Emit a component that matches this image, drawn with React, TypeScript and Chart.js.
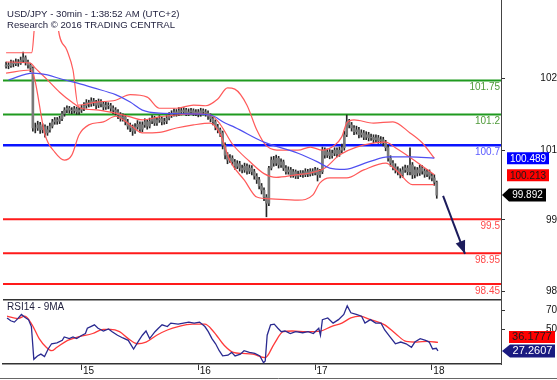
import React, { useEffect, useRef } from "react";
import { Chart, registerables } from "chart.js";
Chart.register(...registerables);

const FONT = "'Liberation Sans', Arial, sans-serif";

// ---------- price bars (30 min), index 0..177 ----------
const firstOpen = 101.98;
const closes = [
  102.00,101.99,102.03,102.02,102.05,102.03,102.08,102.12,102.05,102.00,
  101.95,100.98,100.98,101.03,100.95,101.00,100.90,100.95,101.01,101.08,
  101.11,101.09,101.13,101.21,101.27,101.30,101.27,101.26,101.29,101.24,
  101.27,101.30,101.34,101.39,101.37,101.42,101.39,101.35,101.40,101.37,
  101.32,101.35,101.34,101.30,101.27,101.24,101.19,101.14,101.16,101.08,
  101.01,100.98,100.93,101.00,101.04,100.96,101.03,101.08,101.01,101.09,
  101.14,101.06,101.11,101.13,101.08,101.09,101.14,101.19,101.21,101.24,
  101.22,101.26,101.24,101.27,101.22,101.24,101.26,101.22,101.24,101.21,
  101.26,101.24,101.22,101.17,101.13,101.08,101.00,100.95,100.90,100.70,
  100.54,100.46,100.49,100.43,100.36,100.40,100.33,100.30,100.36,100.28,
  100.33,100.27,100.20,100.14,100.04,99.97,99.86,99.76,100.33,100.46,
  100.41,100.49,100.38,100.43,100.33,100.27,100.30,100.22,100.27,100.20,
  100.23,100.25,100.22,100.27,100.23,100.28,100.25,100.30,100.22,100.27,
  100.62,100.54,100.59,100.53,100.57,100.62,100.56,100.62,100.66,100.87,
  101.08,101.03,100.98,100.92,100.95,100.87,100.90,100.83,100.87,100.82,
  100.83,100.79,100.82,100.77,100.79,100.74,100.66,100.49,100.41,100.35,
  100.30,100.27,100.22,100.30,100.33,100.27,100.38,100.22,100.30,100.25,
  100.33,100.28,100.23,100.27,100.20,100.17,100.10,99.89
];
const highs = [
  102.05,102.04,102.08,102.07,102.10,102.09,102.13,102.21,102.15,102.08,
  102.03,101.97,101.06,101.09,101.07,101.05,101.03,101.01,101.06,101.12,
  101.15,101.15,101.17,101.25,101.31,101.34,101.33,101.31,101.33,101.32,
  101.31,101.35,101.39,101.44,101.43,101.47,101.46,101.43,101.45,101.44,
  101.40,101.40,101.39,101.38,101.34,101.31,101.28,101.23,101.21,101.19,
  101.12,101.06,101.03,101.05,101.10,101.08,101.08,101.13,101.11,101.14,
  101.18,101.17,101.15,101.18,101.16,101.14,101.18,101.23,101.26,101.29,
  101.28,101.31,101.30,101.31,101.30,101.29,101.30,101.29,101.28,101.28,
  101.30,101.29,101.28,101.26,101.21,101.16,101.11,101.04,100.98,100.93,
  100.74,100.58,100.55,100.53,100.47,100.45,100.44,100.38,100.41,100.40,
  100.38,100.37,100.31,100.24,100.18,100.08,100.01,99.90,100.36,100.51,
  100.52,100.54,100.52,100.48,100.46,100.37,100.35,100.34,100.31,100.30,
  100.28,100.29,100.29,100.32,100.31,100.32,100.32,100.34,100.33,100.31,
  100.67,100.66,100.64,100.63,100.62,100.66,100.66,100.67,100.72,100.93,
  101.19,101.12,101.07,101.02,101.01,100.99,100.95,100.94,100.92,100.91,
  100.88,100.87,100.87,100.86,100.84,100.83,100.78,100.70,100.53,100.45,
  100.40,100.35,100.32,100.35,100.38,100.37,100.66,100.42,100.35,100.34,
  100.38,100.37,100.32,100.31,100.30,100.24,100.22,100.12
];
const lows = [
  101.95,101.94,101.96,101.97,101.99,101.98,102.01,102.04,102.00,101.95,
  101.89,100.93,100.90,100.94,100.89,100.90,100.83,100.86,100.91,100.98,
  101.04,101.04,101.05,101.10,101.17,101.23,101.22,101.21,101.22,101.20,
  101.20,101.23,101.26,101.30,101.32,101.33,101.34,101.29,101.31,101.32,
  101.27,101.28,101.29,101.25,101.21,101.19,101.13,101.09,101.09,101.03,
  100.96,100.92,100.86,100.89,100.96,100.91,100.92,100.99,100.96,100.98,
  101.05,101.02,101.02,101.07,101.03,101.04,101.05,101.11,101.15,101.17,
  101.17,101.18,101.19,101.20,101.18,101.18,101.20,101.18,101.18,101.16,
  101.17,101.19,101.17,101.12,101.08,101.03,100.95,100.90,100.84,100.64,
  100.48,100.40,100.42,100.38,100.31,100.32,100.28,100.25,100.26,100.23,
  100.24,100.22,100.15,100.08,99.99,99.91,99.80,99.54,99.72,100.30,
  100.36,100.37,100.33,100.34,100.29,100.23,100.23,100.18,100.18,100.16,
  100.16,100.19,100.18,100.19,100.19,100.20,100.21,100.22,100.12,100.18,
  100.24,100.49,100.50,100.48,100.49,100.53,100.51,100.52,100.58,100.62,
  100.84,100.98,100.93,100.87,100.88,100.82,100.83,100.79,100.79,100.77,
  100.78,100.74,100.75,100.73,100.73,100.69,100.61,100.44,100.36,100.30,
  100.25,100.22,100.17,100.18,100.26,100.22,100.22,100.16,100.17,100.20,
  100.21,100.23,100.18,100.19,100.15,100.12,100.05,99.84
];

// ---------- indicators (x = bar index) ----------
const upperX = [0,10.6,11.5,13,17,20,21.5,25,27.5,29.6,37,45,51,58,63,70,77,82,87,91,94,99,103,107,113,120,125,130,135,138,140,143,151,159,166,171,176];
const upperY = [102.20,102.20,102.55,103.3,103.6,103.2,102.57,102.24,101.92,101.35,101.40,101.43,101.52,101.48,101.30,101.30,101.35,101.34,101.45,101.63,101.61,101.35,100.95,100.69,100.62,100.62,100.67,100.62,100.70,100.84,101.06,101.11,101.06,101.08,100.90,100.74,100.49];
const midX = [0,10,12,17,22,27,31,38,45,51,56,63,70,78,84,88,93,100,106,111,119,125,131,137,144,156,160,168,176];
const midY = [102.05,102.03,101.95,101.76,101.56,101.40,101.30,101.27,101.22,101.16,101.11,101.16,101.19,101.21,101.19,101.04,100.72,100.44,100.24,100.18,100.22,100.25,100.33,100.54,100.67,100.75,100.66,100.45,100.22];
const lowX = [0,10,11.5,16,20,24,27,30,34,40,45,51,56,63,70,77,84,88,92,98,103,109,120,126,129,133,140,147,156,161,167,176];
const lowY = [101.87,101.92,101.81,100.87,100.59,100.46,100.54,100.87,101.03,101.08,101.17,101.03,100.90,100.91,100.98,101.03,101.06,100.88,100.45,100.13,99.86,99.83,99.81,99.89,100.09,100.17,100.17,100.30,100.41,100.27,100.06,100.06];
const maX = [1,11,17,23,29,36,45,51,56,63,74,84,90,94,106,120,128,133,139,149,157,166,176];
const maY = [101.76,101.87,101.84,101.77,101.71,101.63,101.52,101.40,101.27,101.22,101.21,101.19,101.06,100.99,100.75,100.57,100.43,100.33,100.31,100.43,100.51,100.51,100.49];

const rsiX = [0.4,1.9,3.4,4.8,6.3,7.7,9.2,10.4,11.4,12.9,14.3,15.8,17.3,18.7,20.9,23.1,23.9,26,27.5,29,31.2,32.6,33.4,34.8,36.3,37.8,40,42.1,43.6,45.8,48,50.2,52.4,54.6,56,57.5,59,61.2,62.6,64.1,66.3,67.7,70.7,72.9,75.1,77.3,79.5,81.7,83.1,84.6,86.1,87.6,89,91.2,92.7,94.1,96.3,97.8,100,102.2,104.3,105.8,106.5,107.3,108.7,110.2,111.7,113.1,114.6,116.8,119,121.9,124.1,126.3,128.5,129.2,130,132.2,134.4,136.6,138.8,140.2,141.7,143.9,146.1,147.5,149.7,151.9,154.1,155.6,157.8,160,162.2,164.4,166.6,168,170.2,172.4,173.9,175.3,176.8,177.5];
const rsiY = [62,59,57.6,61.2,65.6,62.7,60.2,52.9,18.4,22,23.9,21.3,29.3,34.8,35.8,38.4,42,40.2,42,40.2,43.8,45.6,51.1,52.9,54.7,51.1,48.2,50.4,47.5,43.8,40.9,38.4,29.3,38.4,43.8,48.2,40.2,47.5,51.1,54.7,52.9,56.5,55.4,56.5,57.6,56.5,57.6,52.9,47.5,40.2,34.8,27.5,22,22.8,25.7,22,23.9,27.5,25.7,24.6,22,14.8,16.6,43.8,54.7,55.4,51.1,47.5,48.2,45.6,47.5,46.4,47.5,45.6,51.1,43.8,60.2,62,56.5,60.2,65.6,74.7,67.4,65.6,63.8,56.5,60.2,56.5,56.5,49.3,42,34.8,36.6,34.8,31.1,36.6,40.2,38.4,36.6,29.3,30,27.3];
const rsiMaX = [0.4,4.8,7.7,10.7,13.6,16.5,18.7,20.9,25.3,29.7,35.6,40,42.9,46.6,50.2,53.9,57.5,61.9,66.3,70.7,76.5,81.7,85.3,89.7,93.4,97,101.4,106.5,110.2,113.9,117.5,123.4,129.2,133.6,138,141.7,145.4,149.7,155.6,160,164.4,168.8,173.2,177.5];
const rsiMaY = [63.8,61.2,63.8,54.7,40.2,31.1,27.5,31.1,38.4,42,45.6,50,50,47.5,40.2,34.8,36.6,43.8,49.3,52.9,55.4,55.4,47.5,33,25.7,24.6,23.9,20.2,34.8,47.5,48.2,47.5,48.2,52.9,56.5,62,63.8,60.2,54.7,45.6,37.3,36.6,37.3,36.2];

// ---------- levels, ticks, labels ----------
const levels = [101.75, 101.2, 100.7, 99.5, 98.95, 98.45];
const levelLabels = ["101.75", "101.2", "100.7", "99.5", "98.95", "98.45"];
const priceTickValues = [101.78, 100.62, 99.49, 98.33];
const priceTickLabels = ["102", "101", "99", "98"];
const dayTickIdx = [31, 79, 127, 175];
const dayLabels = ["15", "16", "17", "18"];
const rsiTickValues = [70, 50];
const rsiTickLabels = ["70", "50"];
const lastMA = 100.489, lastMid = 100.213, lastClose = 99.892;
const lastRsiMa = 36.1777, lastRsi = 27.2607;
const arrowFrom = [179.6, 99.88];
const arrowTo = [188.6, 98.94];
const title1 = "USD/JPY - 30min - 1:38:52 AM (UTC+2)";
const title2 = "Research \u00A9 2016 TRADING CENTRAL";
const rsiTitle = "RSI14 - 9MA";

// ---------- styles / frame ----------
const levelColors = ["#1f9a1f", "#1f9a1f", "#0a14ff", "#ff1a1a", "#ff1a1a", "#ff1a1a"];
const levelTextColors = ["#4f9a3a", "#4f9a3a", "#5a5aff", "#ff4a4a", "#ff4a4a", "#ff4a4a"];
const levelWidths = [2, 2, 2.5, 2, 2, 2];
const X_MIN = -1.27, X_MAX = 203.4;
const P_MIN = 98.207, P_MAX = 103.055;
const R_MIN = 13.5, R_MAX = 81.9;

function drawTag(ctx: CanvasRenderingContext2D, xTip: number, xL: number, xR: number, yC: number, h: number, bg: string, fg: string, text: string, font: string, arrow: boolean) {
  ctx.save();
  ctx.fillStyle = bg;
  ctx.beginPath();
  if (arrow) {
    ctx.moveTo(xTip, yC);
    ctx.lineTo(xL, yC - h / 2);
    ctx.lineTo(xR, yC - h / 2);
    ctx.lineTo(xR, yC + h / 2);
    ctx.lineTo(xL, yC + h / 2);
    ctx.closePath();
  } else {
    ctx.rect(xL, yC - h / 2, xR - xL, h);
  }
  ctx.fill();
  ctx.fillStyle = fg;
  ctx.font = font;
  ctx.textAlign = "center";
  ctx.textBaseline = "middle";
  ctx.fillText(text, (xL + xR) / 2, yC + 0.5);
  ctx.restore();
}

const pts = (xs: number[], ys: number[]) => xs.map((x, k) => ({ x, y: ys[k] }));

export default function App() {
  const mainRef = useRef<HTMLCanvasElement>(null);
  const rsiRef = useRef<HTMLCanvasElement>(null);

  useEffect(() => {
    document.body.style.margin = "0";
    const opens = closes.map((c, i) => (i === 0 ? firstOpen : closes[i - 1]));

    const mainOverlay = {
      id: "mainOverlay",
      afterDatasetsDraw(chart: any) {
        const { ctx, chartArea, scales } = chart;
        const ys = scales.y, xs = scales.x;
        ctx.save();
        const x1 = xs.getPixelForValue(arrowFrom[0]), y1 = ys.getPixelForValue(arrowFrom[1]);
        const x2 = xs.getPixelForValue(arrowTo[0]), y2 = ys.getPixelForValue(arrowTo[1]);
        const ang = Math.atan2(y2 - y1, x2 - x1);
        const L = 13, W = 5;
        ctx.fillStyle = "#1c1c5c";
        ctx.beginPath();
        ctx.moveTo(x2, y2);
        ctx.lineTo(x2 - L * Math.cos(ang) + W * Math.sin(ang), y2 - L * Math.sin(ang) - W * Math.cos(ang));
        ctx.lineTo(x2 - L * Math.cos(ang) - W * Math.sin(ang), y2 - L * Math.sin(ang) + W * Math.cos(ang));
        ctx.closePath();
        ctx.fill();
        ctx.font = `10px ${FONT}`;
        ctx.textAlign = "right";
        ctx.textBaseline = "alphabetic";
        levels.forEach((lv, k) => {
          ctx.fillStyle = levelTextColors[k];
          ctx.fillText(levelLabels[k], chartArea.right - 1, ys.getPixelForValue(lv) + 9.5);
        });
        ctx.fillStyle = "#ffffff";
        ctx.fillRect(chartArea.left, 0, 183, 31);
        ctx.fillStyle = "#1e1e3c";
        ctx.textAlign = "left";
        ctx.font = `9.6px ${FONT}`;
        ctx.fillText(title1, 7, 17);
        ctx.fillText(title2, 7, 28);
        ctx.restore();
      },
      afterDraw(chart: any) {
        const { ctx, scales } = chart;
        const ys = scales.y;
        const f = `10px ${FONT}`;
        drawTag(ctx, 0, 507, 549, ys.getPixelForValue(lastMA), 12, "#0000ff", "#ffffff", lastMA.toFixed(3), f, false);
        drawTag(ctx, 0, 507, 549, ys.getPixelForValue(lastMid), 12, "#ff0000", "#1a1a1a", lastMid.toFixed(3), f, false);
        drawTag(ctx, 502, 509, 546, ys.getPixelForValue(lastClose), 13, "#000000", "#ffffff", lastClose.toFixed(3), f, true);
      },
    };

    const rsiOverlay = {
      id: "rsiOverlay",
      afterDraw(chart: any) {
        const { ctx, chartArea, scales, width, height } = chart;
        const ys = scales.y;
        ctx.save();
        ctx.strokeStyle = "#333";
        ctx.lineWidth = 1.5;
        ctx.beginPath();
        ctx.moveTo(chartArea.left, 0.75);
        ctx.lineTo(chartArea.right, 0.75);
        ctx.stroke();
        ctx.strokeStyle = "#666";
        ctx.lineWidth = 1;
        ctx.beginPath();
        ctx.moveTo(0, height - 1.5);
        ctx.lineTo(width, height - 1.5);
        ctx.stroke();
        ctx.fillStyle = "#1e1e3c";
        ctx.font = `10px ${FONT}`;
        ctx.textAlign = "left";
        ctx.textBaseline = "alphabetic";
        ctx.fillText(rsiTitle, 7, 11);
        ctx.restore();
        const f = `11px ${FONT}`;
        const yN = ys.getPixelForValue(lastRsi);
        const yR = Math.min(ys.getPixelForValue(lastRsiMa), yN - 14);
        drawTag(ctx, 0, 509, 555, yR, 12, "#ff0000", "#1a1a1a", lastRsiMa.toFixed(4), f, false);
        drawTag(ctx, 502, 510, 555, yN, 13, "#1a1a80", "#ffffff", lastRsi.toFixed(4), f, true);
      },
    };

    const bandStyle = { type: "line", borderColor: "#ff5a5a", borderWidth: 1.2, pointRadius: 0, cubicInterpolationMode: "monotone", order: 3 };

    const main = new Chart(mainRef.current as HTMLCanvasElement, {
      type: "bar",
      data: {
        datasets: [
          ...levels.map((lv, k) => ({
            type: "line", data: [{ x: X_MIN, y: lv }, { x: X_MAX, y: lv }],
            borderColor: levelColors[k], borderWidth: levelWidths[k], pointRadius: 0, order: 10,
          })),
          { type: "bar", data: closes.map((c, i) => ({ x: i, y: [lows[i], highs[i]] })), backgroundColor: "#262626", barThickness: 1, grouped: false, order: 6 },
          { type: "bar", data: closes.map((c, i) => ({ x: i, y: [opens[i], c] })), backgroundColor: "#7a7a7a", barThickness: 2, grouped: false, order: 5 },
          { ...bandStyle, data: pts(upperX, upperY) },
          { ...bandStyle, data: pts(midX, midY) },
          { ...bandStyle, data: pts(lowX, lowY) },
          { type: "line", data: pts(maX, maY), borderColor: "#5050f0", borderWidth: 1.2, pointRadius: 0, cubicInterpolationMode: "monotone", order: 2 },
          { type: "line", data: [{ x: arrowFrom[0], y: arrowFrom[1] }, { x: arrowTo[0], y: arrowTo[1] }], borderColor: "#1c1c5c", borderWidth: 2, pointRadius: 0, order: 1 },
        ] as any,
      },
      options: {
        animation: false, responsive: false, devicePixelRatio: 1, events: [],
        layout: { padding: { left: 3, right: 0, top: 0, bottom: 0 } },
        plugins: { legend: { display: false }, tooltip: { enabled: false } },
        scales: {
          x: { type: "linear", min: X_MIN, max: X_MAX, display: false, offset: false },
          y: {
            position: "right", min: P_MIN, max: P_MAX,
            afterBuildTicks: (s: any) => { s.ticks = priceTickValues.map((v) => ({ value: v })); },
            afterFit: (s: any) => { s.width = 56; s.paddingTop = 0; s.paddingBottom = 0; },
            ticks: { autoSkip: false, callback: (_v: any, i: number) => priceTickLabels[i], color: "#111", font: { family: FONT, size: 10 }, crossAlign: "far", padding: 24 },
            grid: { drawOnChartArea: false, drawTicks: true, tickLength: 4, tickColor: "#333" },
            border: { display: true, color: "#444", width: 1 },
          },
        },
      } as any,
      plugins: [mainOverlay],
    });

    const rsi = new Chart(rsiRef.current as HTMLCanvasElement, {
      type: "line",
      data: {
        datasets: [
          { data: pts(rsiMaX, rsiMaY), borderColor: "#ff3a3a", borderWidth: 1.3, pointRadius: 0, cubicInterpolationMode: "monotone", order: 2 },
          { data: pts(rsiX, rsiY), borderColor: "#2a2a90", borderWidth: 1.3, pointRadius: 0, tension: 0, order: 1 },
        ] as any,
      },
      options: {
        animation: false, responsive: false, devicePixelRatio: 1, events: [],
        layout: { padding: { left: 3, right: 0, top: 0, bottom: 0 } },
        plugins: { legend: { display: false }, tooltip: { enabled: false } },
        scales: {
          x: {
            type: "linear", min: X_MIN, max: X_MAX, offset: false,
            afterBuildTicks: (s: any) => { s.ticks = dayTickIdx.map((v) => ({ value: v })); },
            afterFit: (s: any) => { s.height = 16; s.paddingLeft = 0; s.paddingRight = 0; },
            ticks: { autoSkip: false, maxRotation: 0, callback: (_v: any, i: number) => dayLabels[i], color: "#111", font: { family: FONT, size: 10 }, labelOffset: 7, padding: -5 },
            grid: { drawOnChartArea: false, drawTicks: true, tickLength: 6, tickColor: "#333" },
            border: { display: true, color: "#333", width: 1.5 },
          },
          y: {
            position: "right", min: R_MIN, max: R_MAX,
            afterBuildTicks: (s: any) => { s.ticks = rsiTickValues.map((v) => ({ value: v })); },
            afterFit: (s: any) => { s.width = 56; s.paddingTop = 0; s.paddingBottom = 0; },
            ticks: { autoSkip: false, callback: (_v: any, i: number) => rsiTickLabels[i], color: "#111", font: { family: FONT, size: 10 }, crossAlign: "far", padding: 29 },
            grid: { drawOnChartArea: false, drawTicks: true, tickLength: 4, tickColor: "#333" },
            border: { display: true, color: "#444", width: 1 },
          },
        },
      } as any,
      plugins: [rsiOverlay],
    });

    return () => { main.destroy(); rsi.destroy(); };
  }, []);

  return (
    <div style={{ position: "absolute", left: 0, top: 0, width: 557, height: 380, background: "#fff", overflow: "hidden" }}>
      <canvas ref={mainRef} width={557} height={299} style={{ position: "absolute", left: 0, top: 0 }} />
      <canvas ref={rsiRef} width={557} height={81} style={{ position: "absolute", left: 0, top: 299 }} />
    </div>
  );
}
